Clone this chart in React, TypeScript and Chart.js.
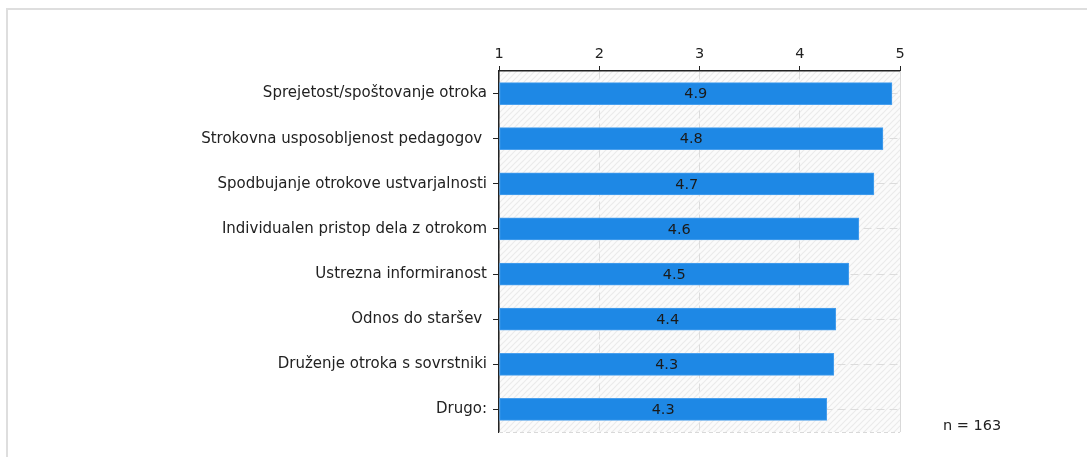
import React, { useEffect, useRef } from "react";
import { Chart, registerables } from "chart.js";

Chart.register(...registerables);

const categories: string[] = [
  "Sprejetost/spoštovanje otroka",
  "Strokovna usposobljenost pedagogov ",
  "Spodbujanje otrokove ustvarjalnosti",
  "Individualen pristop dela z otrokom",
  "Ustrezna informiranost",
  "Odnos do staršev ",
  "Druženje otroka s sovrstniki",
  "Drugo:",
];

const values: number[] = [4.92, 4.83, 4.74, 4.59, 4.49, 4.36, 4.34, 4.27];

const axisTicks: number[] = [1, 2, 3, 4, 5];

const sampleNote = "n = 163";

const FONT = "'DejaVu Sans', Verdana, sans-serif";

function makeHatch(): CanvasPattern | string {
  const c = document.createElement("canvas");
  c.width = 6;
  c.height = 6;
  const g = c.getContext("2d");
  if (!g) return "#f7f7f7";
  g.fillStyle = "#fbfbfb";
  g.fillRect(0, 0, 6, 6);
  g.strokeStyle = "#ebebeb";
  g.lineWidth = 1.2;
  g.beginPath();
  g.moveTo(0, 6);
  g.lineTo(6, 0);
  g.moveTo(-1, 1);
  g.lineTo(1, -1);
  g.moveTo(5, 7);
  g.lineTo(7, 5);
  g.stroke();
  const p = g.createPattern(c, "repeat");
  return p || "#f7f7f7";
}

const decorPlugin = {
  id: "decor",
  beforeDraw(chart: any) {
    const { ctx, chartArea } = chart;
    if (!chartArea) return;
    ctx.save();
    ctx.fillStyle = makeHatch();
    ctx.fillRect(
      chartArea.left,
      chartArea.top,
      chartArea.right - chartArea.left,
      chartArea.bottom - chartArea.top
    );
    ctx.restore();
  },
  afterDatasetsDraw(chart: any) {
    const { ctx, chartArea } = chart;
    ctx.save();
    ctx.strokeStyle = "#d9d9d9";
    ctx.lineWidth = 1;
    ctx.beginPath();
    ctx.moveTo(chartArea.right + 0.5, chartArea.top);
    ctx.lineTo(chartArea.right + 0.5, chartArea.bottom);
    ctx.stroke();
    ctx.setLineDash([4, 3]);
    ctx.beginPath();
    ctx.moveTo(chartArea.left, chartArea.bottom + 0.5);
    ctx.lineTo(chartArea.right, chartArea.bottom + 0.5);
    ctx.stroke();
    ctx.setLineDash([]);

    const meta = chart.getDatasetMeta(0);
    ctx.fillStyle = "#1a1a1a";
    ctx.font = `14.5px ${FONT}`;
    ctx.textAlign = "center";
    ctx.textBaseline = "middle";
    meta.data.forEach((bar: any, i: number) => {
      const v = values[i];
      const left = Math.max(Math.min(bar.x, bar.base), chartArea.left);
      const right = Math.max(bar.x, bar.base);
      ctx.fillText(v.toFixed(1), (left + right) / 2, bar.y + 1);
    });

    ctx.fillStyle = "#222";
    ctx.textAlign = "left";
    ctx.fillText(sampleNote, 943, 426);
    ctx.restore();
  },
};

export default function App() {
  const ref = useRef<HTMLCanvasElement | null>(null);

  useEffect(() => {
    if (!ref.current) return;
    const chart = new Chart(ref.current, {
      type: "bar",
      data: {
        labels: categories,
        datasets: [
          {
            data: values,
            base: 1,
            backgroundColor: "#1e88e5",
            borderColor: "#4aa0ee",
            borderWidth: 1,
            borderSkipped: false,
            barThickness: 22,
          },
        ],
      },
      options: {
        indexAxis: "y",
        animation: false,
        responsive: false,
        maintainAspectRatio: false,
        layout: { padding: { left: 0, top: 0, right: 187, bottom: 25 } },
        plugins: {
          legend: { display: false },
          title: { display: false },
          tooltip: { enabled: false },
        },
        scales: {
          x: {
            position: "top",
            min: 1,
            max: 5,
            afterFit(scale: any) {
              scale.height = 71;
            },
            afterBuildTicks(scale: any) {
              scale.ticks = axisTicks.map((v) => ({ value: v }));
            },
            ticks: {
              stepSize: 1,
              color: "#222",
              padding: 3,
              font: { family: FONT, size: 14.5 },
              callback: (v: any) => String(v),
            },
            grid: {
              color: "#dcdcdc",
              tickColor: "#222",
              tickLength: 5,
              lineWidth: 1,
            },
            border: { display: true, color: "#222", width: 1.5, dash: [8, 5] },
          },
          y: {
            afterFit(scale: any) {
              scale.width = 499;
            },
            ticks: {
              color: "#222",
              padding: 6,
              font: { family: FONT, size: 15 },
            },
            grid: {
              offset: false,
              color: "#dcdcdc",
              tickColor: "#222",
              tickLength: 6,
              lineWidth: 1,
            },
            border: { display: true, color: "#222", width: 1.5, dash: [8, 5] },
          },
        },
      },
      plugins: [decorPlugin],
    });
    return () => chart.destroy();
  }, []);

  return (
    <div>
      <div
        style={{
          position: "fixed",
          left: 6,
          top: 8,
          width: 1100,
          height: 470,
          borderTop: "2px solid #dedede",
          borderLeft: "2px solid #dedede",
          boxSizing: "border-box",
        }}
      />
      <canvas
        ref={ref}
        width={1087}
        height={457}
        style={{ position: "fixed", left: 0, top: 0, width: 1087, height: 457 }}
      />
    </div>
  );
}
